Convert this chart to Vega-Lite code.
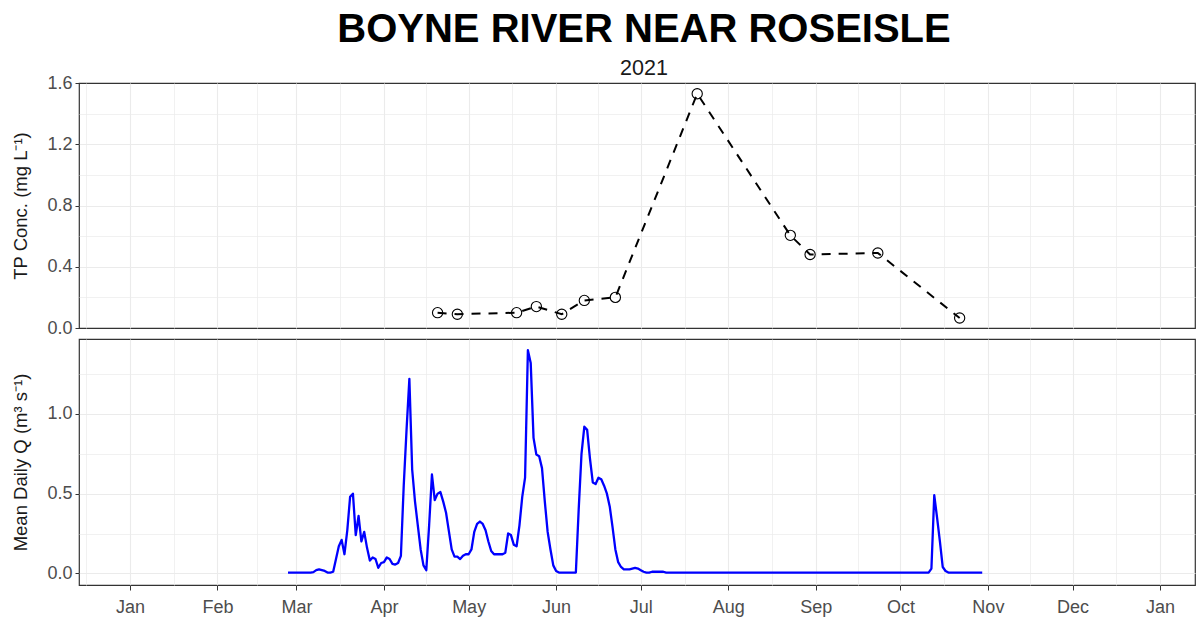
{
  "$schema": "https://vega.github.io/schema/vega-lite/v6.json",
  "autosize": {"type": "pad"},
  "padding": {"left": 10, "top": 9, "right": 0, "bottom": 0},
  "background": "white",
  "title": {"text": "BOYNE RIVER NEAR ROSEISLE", "subtitle": "2021"},
  "config": {
    "font": "Liberation Sans",
    "view": {"stroke": "#333333", "strokeWidth": 1.2},
    "axis": {
      "gridColor": "#ebebeb",
      "domain": false,
      "tickColor": "#333333",
      "tickSize": 4,
      "labelColor": "#4d4d4d",
      "labelFontSize": 18,
      "labelFont": "Liberation Sans",
      "titleFont": "Liberation Sans",
      "titleFontSize": 18.5,
      "titleFontWeight": "normal",
      "titleColor": "#1a1a1a"
    },
    "title": {
      "font": "Liberation Sans",
      "fontSize": 40,
      "fontWeight": "bold",
      "color": "#000000",
      "subtitleFont": "Liberation Sans",
      "subtitleFontSize": 21.5,
      "subtitleColor": "#1a1a1a",
      "anchor": "middle",
      "frame": "group",
      "offset": -6,
      "subtitlePadding": 8,
      "dx": 7
    }
  },
  "bounds": "flush",
  "spacing": 11,
  "datasets": {
    "tp": [
      {"date": "2021-04-20", "tp": 0.10},
      {"date": "2021-04-27", "tp": 0.09},
      {"date": "2021-05-18", "tp": 0.10},
      {"date": "2021-05-25", "tp": 0.14},
      {"date": "2021-06-03", "tp": 0.09},
      {"date": "2021-06-11", "tp": 0.18},
      {"date": "2021-06-22", "tp": 0.20},
      {"date": "2021-07-21", "tp": 1.53},
      {"date": "2021-08-23", "tp": 0.605},
      {"date": "2021-08-30", "tp": 0.48},
      {"date": "2021-09-23", "tp": 0.49},
      {"date": "2021-10-22", "tp": 0.065}
    ],
    "q": [
      {"date": "2021-02-26", "q": 0.005},
      {"date": "2021-02-27", "q": 0.005},
      {"date": "2021-02-28", "q": 0.005},
      {"date": "2021-03-01", "q": 0.005},
      {"date": "2021-03-02", "q": 0.005},
      {"date": "2021-03-03", "q": 0.005},
      {"date": "2021-03-04", "q": 0.005},
      {"date": "2021-03-05", "q": 0.005},
      {"date": "2021-03-06", "q": 0.005},
      {"date": "2021-03-07", "q": 0.008},
      {"date": "2021-03-08", "q": 0.02},
      {"date": "2021-03-09", "q": 0.025},
      {"date": "2021-03-10", "q": 0.02},
      {"date": "2021-03-11", "q": 0.015},
      {"date": "2021-03-12", "q": 0.005},
      {"date": "2021-03-13", "q": 0.005},
      {"date": "2021-03-14", "q": 0.01},
      {"date": "2021-03-15", "q": 0.09},
      {"date": "2021-03-16", "q": 0.17},
      {"date": "2021-03-17", "q": 0.21},
      {"date": "2021-03-18", "q": 0.12},
      {"date": "2021-03-19", "q": 0.27},
      {"date": "2021-03-20", "q": 0.48},
      {"date": "2021-03-21", "q": 0.50},
      {"date": "2021-03-22", "q": 0.24},
      {"date": "2021-03-23", "q": 0.36},
      {"date": "2021-03-24", "q": 0.20},
      {"date": "2021-03-25", "q": 0.26},
      {"date": "2021-03-26", "q": 0.16},
      {"date": "2021-03-27", "q": 0.08},
      {"date": "2021-03-28", "q": 0.10},
      {"date": "2021-03-29", "q": 0.09},
      {"date": "2021-03-30", "q": 0.035},
      {"date": "2021-03-31", "q": 0.065},
      {"date": "2021-04-01", "q": 0.07},
      {"date": "2021-04-02", "q": 0.10},
      {"date": "2021-04-03", "q": 0.09},
      {"date": "2021-04-04", "q": 0.06},
      {"date": "2021-04-05", "q": 0.055},
      {"date": "2021-04-06", "q": 0.065},
      {"date": "2021-04-07", "q": 0.11},
      {"date": "2021-04-08", "q": 0.55},
      {"date": "2021-04-09", "q": 0.90},
      {"date": "2021-04-10", "q": 1.22},
      {"date": "2021-04-11", "q": 0.65},
      {"date": "2021-04-12", "q": 0.45},
      {"date": "2021-04-13", "q": 0.30},
      {"date": "2021-04-14", "q": 0.15},
      {"date": "2021-04-15", "q": 0.05},
      {"date": "2021-04-16", "q": 0.02},
      {"date": "2021-04-17", "q": 0.30},
      {"date": "2021-04-18", "q": 0.62},
      {"date": "2021-04-19", "q": 0.46},
      {"date": "2021-04-20", "q": 0.50},
      {"date": "2021-04-21", "q": 0.51},
      {"date": "2021-04-22", "q": 0.45},
      {"date": "2021-04-23", "q": 0.38},
      {"date": "2021-04-24", "q": 0.265},
      {"date": "2021-04-25", "q": 0.15},
      {"date": "2021-04-26", "q": 0.105},
      {"date": "2021-04-27", "q": 0.105},
      {"date": "2021-04-28", "q": 0.09},
      {"date": "2021-04-29", "q": 0.11},
      {"date": "2021-04-30", "q": 0.12},
      {"date": "2021-05-01", "q": 0.12},
      {"date": "2021-05-02", "q": 0.15},
      {"date": "2021-05-03", "q": 0.26},
      {"date": "2021-05-04", "q": 0.31},
      {"date": "2021-05-05", "q": 0.325},
      {"date": "2021-05-06", "q": 0.31},
      {"date": "2021-05-07", "q": 0.27},
      {"date": "2021-05-08", "q": 0.20},
      {"date": "2021-05-09", "q": 0.14},
      {"date": "2021-05-10", "q": 0.12},
      {"date": "2021-05-11", "q": 0.12},
      {"date": "2021-05-12", "q": 0.12},
      {"date": "2021-05-13", "q": 0.12},
      {"date": "2021-05-14", "q": 0.13},
      {"date": "2021-05-15", "q": 0.25},
      {"date": "2021-05-16", "q": 0.24},
      {"date": "2021-05-17", "q": 0.18},
      {"date": "2021-05-18", "q": 0.17},
      {"date": "2021-05-19", "q": 0.30},
      {"date": "2021-05-20", "q": 0.48},
      {"date": "2021-05-21", "q": 0.60},
      {"date": "2021-05-22", "q": 1.40},
      {"date": "2021-05-23", "q": 1.32},
      {"date": "2021-05-24", "q": 0.85},
      {"date": "2021-05-25", "q": 0.745},
      {"date": "2021-05-26", "q": 0.735},
      {"date": "2021-05-27", "q": 0.66},
      {"date": "2021-05-28", "q": 0.45},
      {"date": "2021-05-29", "q": 0.26},
      {"date": "2021-05-30", "q": 0.15},
      {"date": "2021-05-31", "q": 0.05},
      {"date": "2021-06-01", "q": 0.015},
      {"date": "2021-06-02", "q": 0.005},
      {"date": "2021-06-03", "q": 0.005},
      {"date": "2021-06-04", "q": 0.005},
      {"date": "2021-06-05", "q": 0.005},
      {"date": "2021-06-06", "q": 0.005},
      {"date": "2021-06-07", "q": 0.005},
      {"date": "2021-06-08", "q": 0.005},
      {"date": "2021-06-09", "q": 0.40},
      {"date": "2021-06-10", "q": 0.75},
      {"date": "2021-06-11", "q": 0.92},
      {"date": "2021-06-12", "q": 0.90},
      {"date": "2021-06-13", "q": 0.72},
      {"date": "2021-06-14", "q": 0.57},
      {"date": "2021-06-15", "q": 0.56},
      {"date": "2021-06-16", "q": 0.60},
      {"date": "2021-06-17", "q": 0.59},
      {"date": "2021-06-18", "q": 0.55},
      {"date": "2021-06-19", "q": 0.50},
      {"date": "2021-06-20", "q": 0.42},
      {"date": "2021-06-21", "q": 0.29},
      {"date": "2021-06-22", "q": 0.15},
      {"date": "2021-06-23", "q": 0.07},
      {"date": "2021-06-24", "q": 0.04},
      {"date": "2021-06-25", "q": 0.025},
      {"date": "2021-06-26", "q": 0.025},
      {"date": "2021-06-27", "q": 0.025},
      {"date": "2021-06-28", "q": 0.03},
      {"date": "2021-06-29", "q": 0.035},
      {"date": "2021-06-30", "q": 0.03},
      {"date": "2021-07-01", "q": 0.02},
      {"date": "2021-07-02", "q": 0.01},
      {"date": "2021-07-03", "q": 0.005},
      {"date": "2021-07-04", "q": 0.005},
      {"date": "2021-07-05", "q": 0.01},
      {"date": "2021-07-06", "q": 0.01},
      {"date": "2021-07-07", "q": 0.01},
      {"date": "2021-07-08", "q": 0.01},
      {"date": "2021-07-09", "q": 0.01},
      {"date": "2021-07-10", "q": 0.005},
      {"date": "2021-07-11", "q": 0.005},
      {"date": "2021-07-12", "q": 0.005},
      {"date": "2021-07-13", "q": 0.005},
      {"date": "2021-07-14", "q": 0.005},
      {"date": "2021-07-15", "q": 0.005},
      {"date": "2021-07-16", "q": 0.005},
      {"date": "2021-07-17", "q": 0.005},
      {"date": "2021-07-18", "q": 0.005},
      {"date": "2021-07-19", "q": 0.005},
      {"date": "2021-07-20", "q": 0.005},
      {"date": "2021-07-21", "q": 0.005},
      {"date": "2021-07-22", "q": 0.005},
      {"date": "2021-07-23", "q": 0.005},
      {"date": "2021-07-24", "q": 0.005},
      {"date": "2021-07-25", "q": 0.005},
      {"date": "2021-07-26", "q": 0.005},
      {"date": "2021-07-27", "q": 0.005},
      {"date": "2021-07-28", "q": 0.005},
      {"date": "2021-07-29", "q": 0.005},
      {"date": "2021-07-30", "q": 0.005},
      {"date": "2021-07-31", "q": 0.005},
      {"date": "2021-08-01", "q": 0.005},
      {"date": "2021-08-02", "q": 0.005},
      {"date": "2021-08-03", "q": 0.005},
      {"date": "2021-08-04", "q": 0.005},
      {"date": "2021-08-05", "q": 0.005},
      {"date": "2021-08-06", "q": 0.005},
      {"date": "2021-08-07", "q": 0.005},
      {"date": "2021-08-08", "q": 0.005},
      {"date": "2021-08-09", "q": 0.005},
      {"date": "2021-08-10", "q": 0.005},
      {"date": "2021-08-11", "q": 0.005},
      {"date": "2021-08-12", "q": 0.005},
      {"date": "2021-08-13", "q": 0.005},
      {"date": "2021-08-14", "q": 0.005},
      {"date": "2021-08-15", "q": 0.005},
      {"date": "2021-08-16", "q": 0.005},
      {"date": "2021-08-17", "q": 0.005},
      {"date": "2021-08-18", "q": 0.005},
      {"date": "2021-08-19", "q": 0.005},
      {"date": "2021-08-20", "q": 0.005},
      {"date": "2021-08-21", "q": 0.005},
      {"date": "2021-08-22", "q": 0.005},
      {"date": "2021-08-23", "q": 0.005},
      {"date": "2021-08-24", "q": 0.005},
      {"date": "2021-08-25", "q": 0.005},
      {"date": "2021-08-26", "q": 0.005},
      {"date": "2021-08-27", "q": 0.005},
      {"date": "2021-08-28", "q": 0.005},
      {"date": "2021-08-29", "q": 0.005},
      {"date": "2021-08-30", "q": 0.005},
      {"date": "2021-08-31", "q": 0.005},
      {"date": "2021-09-01", "q": 0.005},
      {"date": "2021-09-02", "q": 0.005},
      {"date": "2021-09-03", "q": 0.005},
      {"date": "2021-09-04", "q": 0.005},
      {"date": "2021-09-05", "q": 0.005},
      {"date": "2021-09-06", "q": 0.005},
      {"date": "2021-09-07", "q": 0.005},
      {"date": "2021-09-08", "q": 0.005},
      {"date": "2021-09-09", "q": 0.005},
      {"date": "2021-09-10", "q": 0.005},
      {"date": "2021-09-11", "q": 0.005},
      {"date": "2021-09-12", "q": 0.005},
      {"date": "2021-09-13", "q": 0.005},
      {"date": "2021-09-14", "q": 0.005},
      {"date": "2021-09-15", "q": 0.005},
      {"date": "2021-09-16", "q": 0.005},
      {"date": "2021-09-17", "q": 0.005},
      {"date": "2021-09-18", "q": 0.005},
      {"date": "2021-09-19", "q": 0.005},
      {"date": "2021-09-20", "q": 0.005},
      {"date": "2021-09-21", "q": 0.005},
      {"date": "2021-09-22", "q": 0.005},
      {"date": "2021-09-23", "q": 0.005},
      {"date": "2021-09-24", "q": 0.005},
      {"date": "2021-09-25", "q": 0.005},
      {"date": "2021-09-26", "q": 0.005},
      {"date": "2021-09-27", "q": 0.005},
      {"date": "2021-09-28", "q": 0.005},
      {"date": "2021-09-29", "q": 0.005},
      {"date": "2021-09-30", "q": 0.005},
      {"date": "2021-10-01", "q": 0.005},
      {"date": "2021-10-02", "q": 0.005},
      {"date": "2021-10-03", "q": 0.005},
      {"date": "2021-10-04", "q": 0.005},
      {"date": "2021-10-05", "q": 0.005},
      {"date": "2021-10-06", "q": 0.005},
      {"date": "2021-10-07", "q": 0.005},
      {"date": "2021-10-08", "q": 0.005},
      {"date": "2021-10-09", "q": 0.005},
      {"date": "2021-10-10", "q": 0.005},
      {"date": "2021-10-11", "q": 0.005},
      {"date": "2021-10-12", "q": 0.03},
      {"date": "2021-10-13", "q": 0.49},
      {"date": "2021-10-14", "q": 0.35},
      {"date": "2021-10-15", "q": 0.20},
      {"date": "2021-10-16", "q": 0.04},
      {"date": "2021-10-17", "q": 0.015},
      {"date": "2021-10-18", "q": 0.005},
      {"date": "2021-10-19", "q": 0.005},
      {"date": "2021-10-20", "q": 0.005},
      {"date": "2021-10-21", "q": 0.005},
      {"date": "2021-10-22", "q": 0.005},
      {"date": "2021-10-23", "q": 0.005},
      {"date": "2021-10-24", "q": 0.005},
      {"date": "2021-10-25", "q": 0.005},
      {"date": "2021-10-26", "q": 0.005},
      {"date": "2021-10-27", "q": 0.005},
      {"date": "2021-10-28", "q": 0.005},
      {"date": "2021-10-29", "q": 0.005},
      {"date": "2021-10-30", "q": 0.005}
    ]
  },
  "vconcat": [
    {
      "width": 1116,
      "height": 245,
      "data": {"name": "tp"},
      "encoding": {
        "x": {
          "field": "date",
          "type": "temporal",
          "scale": {"type": "utc", "domain": [1607897952000, 1642066560000], "nice": false},
          "axis": {
            "title": null,
            "labels": false,
            "ticks": false,
            "grid": true,
            "values": [1608120000000, 1609459200000, 1610798400000, 1612137600000, 1613347200000, 1614556800000, 1615896000000, 1617235200000, 1618531200000, 1619827200000, 1621166400000, 1622505600000, 1623801600000, 1625097600000, 1626436800000, 1627776000000, 1629115200000, 1630454400000, 1631750400000, 1633046400000, 1634385600000, 1635724800000, 1637020800000, 1638316800000, 1639656000000, 1640995200000],
            "gridWidth": {"condition": {"test": "utcdate(datum.value) == 1", "value": 1.1}, "value": 0.7}
          }
        },
        "y": {
          "field": "tp",
          "type": "quantitative",
          "scale": {"domain": [0, 1.6], "nice": false, "zero": false},
          "axis": {
            "title": "TP Conc. (mg L⁻¹)",
            "values": [0, 0.2, 0.4, 0.6, 0.8, 1.0, 1.2, 1.4, 1.6],
            "labelExpr": "round(datum.value * 10) % 4 == 0 ? format(datum.value, '.1f') : ''",
            "tickOpacity": {"condition": {"test": "round(datum.value * 10) % 4 == 0", "value": 1}, "value": 0},
            "gridWidth": {"condition": {"test": "round(datum.value * 10) % 4 == 0", "value": 1.1}, "value": 0.7},
            "gridOpacity": {"condition": {"test": "datum.value > 1.55 || datum.value < 0.05", "value": 0}, "value": 1},
            "labelPadding": 3,
            "titleX": -49
          }
        }
      },
      "layer": [
        {"mark": {"type": "line", "color": "#000000", "strokeWidth": 2, "strokeDash": [9, 8]}},
        {"mark": {"type": "point", "shape": "circle", "filled": false, "color": "#000000", "size": 105, "strokeWidth": 1.1, "opacity": 1}}
      ]
    },
    {
      "width": 1116,
      "height": 246,
      "data": {"name": "q"},
      "encoding": {
        "x": {
          "field": "date",
          "type": "temporal",
          "scale": {"type": "utc", "domain": [1607897952000, 1642066560000], "nice": false},
          "axis": {
            "title": null,
            "grid": true,
            "values": [1608120000000, 1609459200000, 1610798400000, 1612137600000, 1613347200000, 1614556800000, 1615896000000, 1617235200000, 1618531200000, 1619827200000, 1621166400000, 1622505600000, 1623801600000, 1625097600000, 1626436800000, 1627776000000, 1629115200000, 1630454400000, 1631750400000, 1633046400000, 1634385600000, 1635724800000, 1637020800000, 1638316800000, 1639656000000, 1640995200000],
            "labelExpr": "utcdate(datum.value) == 1 ? utcFormat(datum.value, '%b') : ''",
            "tickOpacity": {"condition": {"test": "utcdate(datum.value) == 1", "value": 1}, "value": 0},
            "gridWidth": {"condition": {"test": "utcdate(datum.value) == 1", "value": 1.1}, "value": 0.7},
            "tickSize": 5,
            "labelPadding": 8,
            "labelFlush": false,
            "labelOverlap": false
          }
        },
        "y": {
          "field": "q",
          "type": "quantitative",
          "scale": {"domain": [-0.073, 1.47], "nice": false, "zero": false},
          "axis": {
            "title": "Mean Daily Q (m³ s⁻¹)",
            "values": [0, 0.25, 0.5, 0.75, 1.0, 1.25],
            "labelExpr": "round(datum.value * 4) % 2 == 0 ? format(datum.value, '.1f') : ''",
            "tickOpacity": {"condition": {"test": "round(datum.value * 4) % 2 == 0", "value": 1}, "value": 0},
            "gridWidth": {"condition": {"test": "round(datum.value * 4) % 2 == 0", "value": 1.1}, "value": 0.7},
            "labelPadding": 3,
            "titleX": -49
          }
        }
      },
      "mark": {"type": "line", "color": "#0000ff", "strokeWidth": 2.3, "strokeJoin": "round"}
    }
  ]
}
